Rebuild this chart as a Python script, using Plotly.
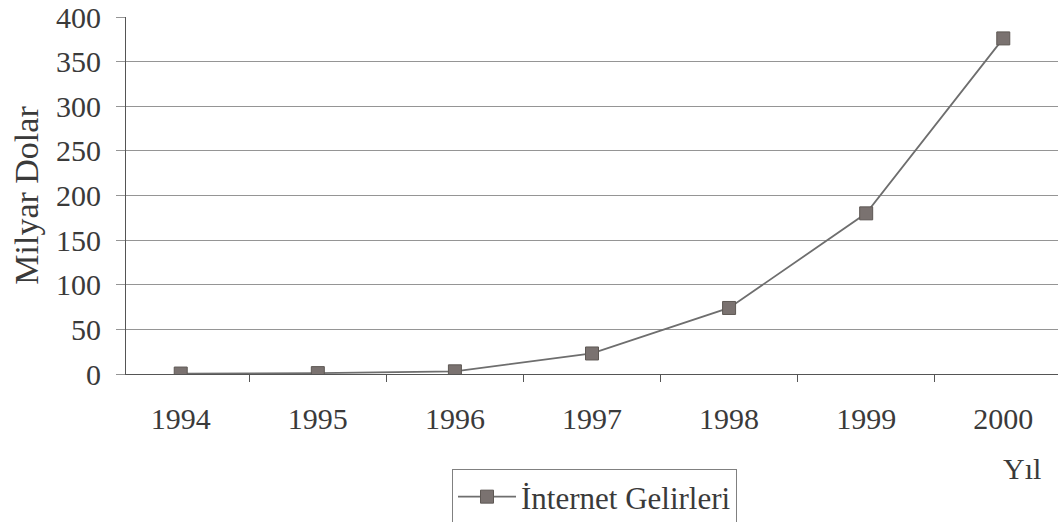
import plotly.graph_objects as go

years = ["1994", "1995", "1996", "1997", "1998", "1999", "2000"]
revenues = [0.5, 1, 3, 23, 74, 180, 376]
y_ticks = [0, 50, 100, 150, 200, 250, 300, 350, 400]
series_name = "İnternet Gelirleri"
x_title = "Yıl"
y_title = "Milyar Dolar"

FONT = "Liberation Serif, Times New Roman, serif"
TXT = "#3a3a3a"

W, H = 1058, 522
L, T = 126, 17
BOTTOM_Y = 374
PW = W - L
PH = BOTTOM_Y - T

fig = go.Figure()
fig.add_trace(go.Scatter(
    x=years, y=revenues, name=series_name, mode="lines+markers",
    line=dict(color="#6e6e6e", width=1.8),
    marker=dict(symbol="square", size=13, color="#7a7270",
                line=dict(color="#5e5854", width=1)),
))

fig.update_layout(
    template="none",
    width=W, height=H,
    margin=dict(l=L, r=0, t=T, b=H - BOTTOM_Y, autoexpand=False),
    paper_bgcolor="white", plot_bgcolor="white",
    font=dict(family=FONT, size=30, color=TXT),
    showlegend=True,
    legend=dict(x=(452 - L) / PW, y=(BOTTOM_Y - 469) / PH, xanchor="left", yanchor="top",
                bordercolor="#808080", borderwidth=1, bgcolor="white",
                font=dict(family=FONT, size=31, color=TXT),
                itemwidth=58),
    xaxis=dict(type="category", ticks="outside", tickson="boundaries",
               ticklen=7, tickcolor="#555555", showgrid=False,
               showline=True, linecolor="#555555", linewidth=1,
               zeroline=False, automargin=False,
               ticklabelstandoff=18, ticklabeloverflow="allow",
               tickfont=dict(family=FONT, size=30, color=TXT)),
    yaxis=dict(range=[0, 400], tickvals=y_ticks, showgrid=True,
               gridcolor="#959595", gridwidth=1, zeroline=False,
               showline=True, linecolor="#555555", linewidth=1,
               ticks="outside", ticklen=9, tickcolor="#959595",
               ticklabelstandoff=9, ticklabeloverflow="allow",
               automargin=False,
               tickfont=dict(family=FONT, size=30, color=TXT),
               title=dict(text=y_title, standoff=7,
                          font=dict(family=FONT, size=34, color=TXT))),
    annotations=[dict(text=x_title, x=(1022 - L) / PW, y=(BOTTOM_Y - 468) / PH,
                      xref="paper", yref="paper", showarrow=False,
                      xanchor="center", yanchor="middle",
                      font=dict(family=FONT, size=30, color=TXT))],
)

fig.write_html("out.html",
               config={"displayModeBar": False},
               post_script="document.body.style.margin='0';document.body.style.overflow='hidden';")
